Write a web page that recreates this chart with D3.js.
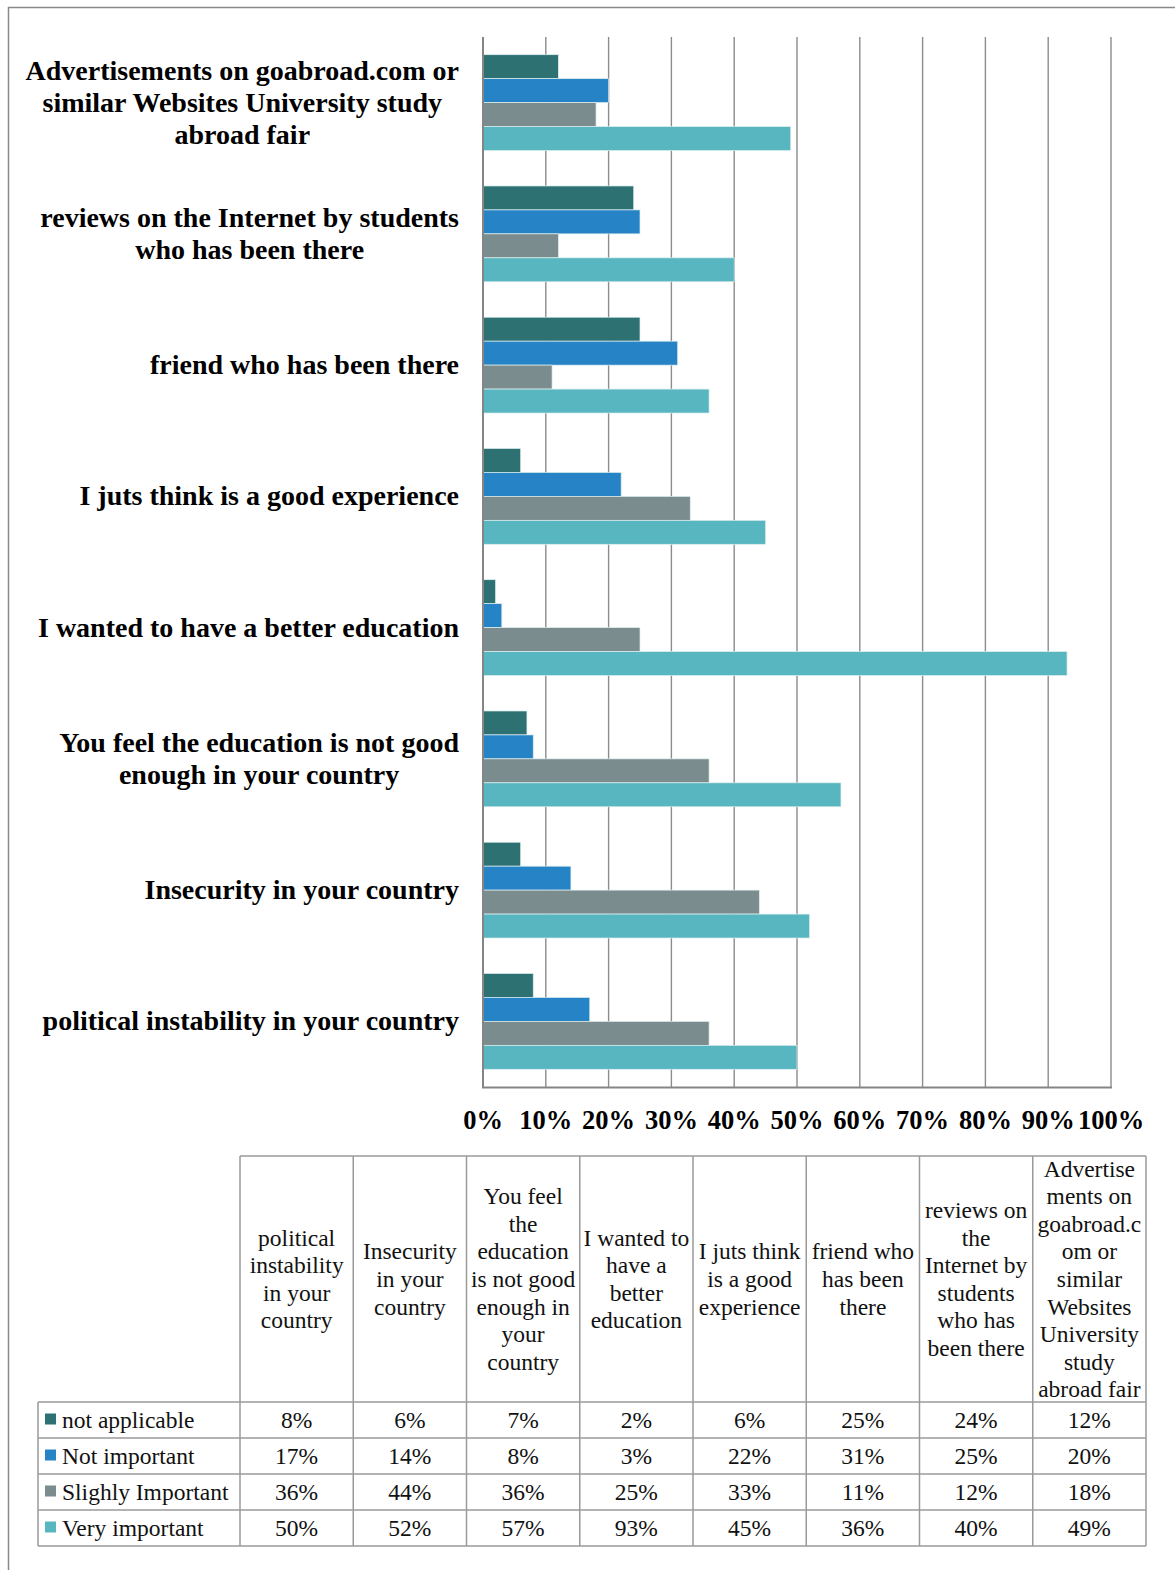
<!DOCTYPE html>
<html><head><meta charset="utf-8">
<script src="https://cdn.jsdelivr.net/npm/d3@7"></script>
<style>body{margin:0;background:#fff}svg{display:block}</style>
</head><body>
<script>
const categories = ["political instability in your country","Insecurity in your country","You feel the education is not good enough in your country","I wanted to have a better education","I juts think is a good experience","friend who has been there","reviews on the Internet by students who has been there","Advertisements on goabroad.com or similar Websites University study abroad fair"];
const chartLabelLines = [["political instability in your country"],["Insecurity in your country"],["You feel the education is not good","enough in your country"],["I wanted to have a better education"],["I juts think is a good experience"],["friend who has been there "],["reviews on the Internet by students","who has been there"],["Advertisements on goabroad.com or","similar Websites University study","abroad fair"]];
const tableHeaderLines = [["political","instability","in your","country"],["Insecurity","in your","country"],["You feel","the","education","is not good","enough in","your","country"],["I wanted to","have a","better","education"],["I juts think","is a good","experience"],["friend who","has been","there"],["reviews on","the","Internet by","students","who has","been there"],["Advertise","ments on","goabroad.c","om or","similar","Websites","University","study","abroad fair"]];
const seriesNames = ["not applicable","Not important","Slighly Important","Very important"];
const notApplicable = [8,6,7,2,6,25,24,12];
const notImportant = [17,14,8,3,22,31,25,20];
const slighlyImportant = [36,44,36,25,33,11,12,18];
const veryImportant = [50,52,57,93,45,36,40,49];
const tickValues = [0,10,20,30,40,50,60,70,80,90,100];
const colors = ["#2e7173","#2683c6","#7a8c8e","#58b6c0"];

const seriesValues = [notApplicable, notImportant, slighlyImportant, veryImportant];
const W = 1175, H = 1570;
const svg = d3.select("body").append("svg").attr("width", W).attr("height", H);
const serif = "'Liberation Serif','Times New Roman',serif";

// outer border
svg.append("path").attr("d", `M8.5,${H} V7.5 H${W}`).attr("fill","none").attr("stroke","#8a8a8a").attr("stroke-width",1.5);

const x = d3.scaleLinear().domain([0,100]).range([483,1111]);
const y = d3.scaleBand().domain(d3.range(categories.length).reverse()).range([37,1087]).paddingInner(0.27).paddingOuter(0.135);
const ySub = d3.scaleBand().domain(d3.range(seriesNames.length)).range([0, y.bandwidth()]);

// gridlines
svg.append("g").selectAll("line").data(tickValues.slice(1)).join("line")
  .attr("x1", d => x(d)).attr("x2", d => x(d)).attr("y1", 37).attr("y2", 1087)
  .attr("stroke", "#8c8c8c").attr("stroke-width", 1.4);

// bars
const groups = svg.append("g").selectAll("g").data(categories.map((c,i)=>i)).join("g")
  .attr("transform", i => `translate(0,${y(i)})`);
groups.selectAll("rect").data(i => seriesValues.map((s,k)=>({k, v:s[i]}))).join("rect")
  .attr("x", x(0)).attr("y", d => ySub(d.k)).attr("width", d => x(d.v)-x(0)).attr("height", ySub.bandwidth())
  .attr("fill", d => colors[d.k]).attr("stroke", "#dfeeee").attr("stroke-width", 0.7);

// axes lines
svg.append("line").attr("x1", x(0)).attr("x2", x(0)).attr("y1", 37).attr("y2", 1088).attr("stroke","#858585").attr("stroke-width",2);
svg.append("line").attr("x1", x(0)-1).attr("x2", x(100)+1).attr("y1", 1087.5).attr("y2", 1087.5).attr("stroke","#858585").attr("stroke-width",2);

// x tick labels
svg.append("g").selectAll("text").data(tickValues).join("text")
  .attr("x", d => x(d)).attr("y", 1129).attr("text-anchor","middle")
  .attr("font-family", serif).attr("font-weight","bold").attr("font-size", 26.5)
  .text(d => d + "%");

// category labels
const lh = 32;
const lbl = svg.append("g");
chartLabelLines.forEach((lines, i) => {
  const cy = y(i) + y.bandwidth()/2;
  const tmp = lbl.append("g").attr("font-family", serif).attr("font-weight","bold").attr("font-size", 28).attr("xml:space","preserve");
  const texts = lines.map((l, j) => tmp.append("text").attr("y", cy + (j - (lines.length-1)/2)*lh + 9).text(l));
  const widths = texts.map(t => t.node().getComputedTextLength());
  const maxW = d3.max(widths);
  const right = 459;
  texts.forEach((t, j) => t.attr("x", right - maxW/2).attr("text-anchor","middle"));
});

// data table
const colX = d3.scaleBand().domain(d3.range(categories.length)).range([240,1146]);
const headTop = 1156, headBottom = 1402, rowH = 36, legendLeft = 38;
const tableBottom = headBottom + rowH*seriesNames.length;
const tg = svg.append("g").attr("font-family", serif).attr("font-size", 23.5).attr("fill","#111");
const lineColor = "#9a9a9a";
tg.append("line").attr("x1",240).attr("x2",1146).attr("y1",headTop).attr("y2",headTop).attr("stroke",lineColor).attr("stroke-width",1.5);
d3.range(categories.length+1).forEach(k => {
  const xx = k < categories.length ? colX(k) : 1146;
  tg.append("line").attr("x1",xx).attr("x2",xx).attr("y1",headTop).attr("y2",tableBottom).attr("stroke",lineColor).attr("stroke-width",1.5);
});
tg.append("line").attr("x1",legendLeft).attr("x2",legendLeft).attr("y1",headBottom).attr("y2",tableBottom).attr("stroke",lineColor).attr("stroke-width",1.5);
d3.range(seriesNames.length+1).forEach(r => {
  const yy = headBottom + r*rowH;
  tg.append("line").attr("x1",legendLeft).attr("x2",1146).attr("y1",yy).attr("y2",yy).attr("stroke",lineColor).attr("stroke-width",1.5);
});
const hlh = 27.6;
const hcy = (headTop + headBottom)/2;
tableHeaderLines.forEach((lines, i) => {
  lines.forEach((l, j) => {
    tg.append("text").attr("x", colX(i) + colX.bandwidth()/2).attr("y", hcy + (j - (lines.length-1)/2)*hlh + 8)
      .attr("text-anchor","middle").text(l);
  });
});
seriesNames.forEach((name, r) => {
  const cy = headBottom + r*rowH + rowH/2;
  tg.append("rect").attr("x", 45).attr("y", cy - 6.5).attr("width", 11).attr("height", 11).attr("fill", colors[r]);
  tg.append("text").attr("x", 62).attr("y", cy + 8).text(name);
  seriesValues[r].forEach((v, i) => {
    tg.append("text").attr("x", colX(i) + colX.bandwidth()/2).attr("y", cy + 8).attr("text-anchor","middle").text(v + "%");
  });
});
</script>
</body></html>
